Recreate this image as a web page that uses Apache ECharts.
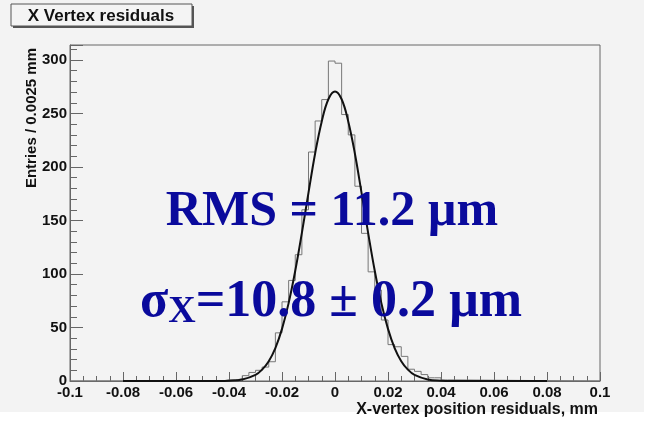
<!DOCTYPE html>
<html lang="en">
<head>
	<meta charset="UTF-8">
	<title>X Vertex residuals</title>
	<style>
		html, body { margin: 0; padding: 0; background: #ffffff; }
		#chart { width: 653px; height: 422px; }
	</style>
</head>
<body>
	<div id="chart"></div>
	<script src="https://cdn.jsdelivr.net/npm/echarts@6/dist/echarts.min.js"></script>
	<script>
		// histogram: bin width 0.0025 mm, counts from -0.045 to 0.045 (zero outside)
		var binWidth = 0.0025;
		var firstEdge = -0.045;
		var counts = [0, 1, 1, 2, 5, 8, 10, 13, 18, 45, 74, 94, 118, 160, 214, 243, 263, 299,
			297, 249, 230, 182, 138, 102, 85, 57, 34, 32, 23, 11, 9, 6, 3, 3, 1, 1];

		// gaussian fit curve
		var fitX = [-0.08, -0.05, -0.045, -0.04, -0.035, -0.03, -0.0275, -0.025, -0.0225, -0.02, -0.0175,
			-0.015, -0.0125, -0.01, -0.0075, -0.005, -0.0025, 0, 0.0025, 0.005, 0.0075, 0.01, 0.0125,
			0.015, 0.0175, 0.02, 0.0225, 0.025, 0.0275, 0.03, 0.035, 0.04, 0.045, 0.05, 0.08];
		var fitY = [0, 0, 0.05, 0.3, 1.4, 5.7, 10.6, 18.5, 30.8, 48.7, 72.8,
			103, 138.5, 176, 212.6, 242.6, 263.3, 270.5, 263.3, 242.6, 212.6, 176, 138.5,
			103, 72.8, 48.7, 30.8, 18.5, 10.6, 5.7, 1.4, 0.3, 0.05, 0, 0];

		var xTicks = { min: -0.1, max: 0.1, interval: 0.02 };
		var yTicks = { min: 0, max: 314, interval: 50 };

		var histData = [[-0.1, 0]];
		for (var i = 0; i < counts.length; i++) {
			histData.push([+(firstEdge + i * binWidth).toFixed(4), counts[i]]);
		}
		histData.push([+(firstEdge + counts.length * binWidth).toFixed(4), 0]);
		histData.push([0.1, 0]);

		var fitData = [];
		for (var j = 0; j < fitX.length; j++) {
			fitData.push([fitX[j], fitY[j]]);
		}

		var labelFont = {
			fontFamily: 'Liberation Sans, Arial, sans-serif',
			fontWeight: 'bold',
			fontSize: 15,
			color: '#111'
		};
		var blue = '#0a0a9c';

		var chart = echarts.init(document.getElementById('chart'));
		var option = {
			backgroundColor: '#ffffff',
			animation: false,
			grid: {
				left: 70, right: 53, top: 45, bottom: 41,
				show: true, borderColor: '#666', borderWidth: 1,
				backgroundColor: 'transparent'
			},
			xAxis: {
				type: 'value',
				min: xTicks.min, max: xTicks.max, interval: xTicks.interval,
				axisLine: { lineStyle: { color: '#666' } },
				axisTick: { inside: true, length: 9, lineStyle: { color: '#666' } },
				minorTick: { show: true, splitNumber: 4, length: 5, lineStyle: { color: '#666' } },
				splitLine: { show: false },
				axisLabel: Object.assign({
					margin: 4,
					formatter: function (v) { return String(+v.toFixed(2)); }
				}, labelFont)
			},
			yAxis: {
				type: 'value',
				min: yTicks.min, max: yTicks.max, interval: yTicks.interval,
				axisLine: { show: true, onZero: false, lineStyle: { color: '#666' } },
				axisTick: { show: true, inside: true, length: 13, lineStyle: { color: '#666' } },
				minorTick: { show: true, splitNumber: 5, length: 7, lineStyle: { color: '#666' } },
				splitLine: { show: false },
				axisLabel: Object.assign({
					margin: 3,
					formatter: function (v) { return v % 50 === 0 ? String(v) : ''; }
				}, labelFont)
			},
			graphic: [
				{
					type: 'rect', z: -10, silent: true,
					shape: { x: 0, y: 0, width: 644, height: 412 },
					style: { fill: '#f3f3f3' }
				},
				{
					type: 'rect', z: 10,
					shape: { x: 13, y: 6, width: 181, height: 22 },
					style: { fill: '#555' }
				},
				{
					type: 'rect', z: 11,
					shape: { x: 11, y: 4, width: 181, height: 22 },
					style: { fill: '#f4f4f4', stroke: '#555', lineWidth: 1 }
				},
				{
					type: 'text', z: 12, x: 101, y: 16,
					style: {
						text: 'X Vertex residuals', fill: '#111',
						font: 'bold 17px "Liberation Sans", Arial, sans-serif',
						textAlign: 'center', textVerticalAlign: 'middle'
					}
				},
				{
					type: 'text', z: 12, x: 32, y: 48, rotation: Math.PI / 2,
					style: {
						text: 'Entries / 0.0025 mm', fill: '#111',
						font: 'bold 15px "Liberation Sans", Arial, sans-serif',
						textAlign: 'right', textVerticalAlign: 'middle'
					}
				},
				{
					type: 'text', z: 12, x: 598, y: 410,
					style: {
						text: 'X-vertex position residuals, mm', fill: '#111',
						font: 'bold 16px "Liberation Sans", Arial, sans-serif',
						textAlign: 'right', textVerticalAlign: 'middle'
					}
				},
				{
					type: 'text', z: 20, x: 332, y: 212,
					style: {
						text: 'RMS = 11.2 µm', fill: blue,
						font: 'bold 50px "Liberation Serif", "Times New Roman", serif',
						textAlign: 'center', textVerticalAlign: 'middle'
					}
				},
				{
					type: 'text', z: 20, x: 140, y: 303,
					style: {
						text: '{a|σ}{b|X}{a|=10.8 ± 0.2 µm}',
						rich: {
							a: {
								fontFamily: 'Liberation Serif, Times New Roman, serif',
								fontWeight: 'bold', fontSize: 52, fill: blue, color: blue
							},
							b: {
								fontFamily: 'Liberation Serif, Times New Roman, serif',
								fontWeight: 'bold', fontSize: 38, fill: blue, color: blue,
								padding: [18, 0, 0, 0]
							}
						},
						textAlign: 'left', textVerticalAlign: 'middle'
					}
				}
			],
			series: [
				{
					name: 'histogram',
					type: 'line',
					step: 'end',
					symbol: 'none',
					data: histData,
					lineStyle: { color: '#777', width: 1 },
					z: 3
				},
				{
					name: 'fit',
					type: 'line',
					smooth: 0.4,
					symbol: 'none',
					data: fitData,
					lineStyle: { color: '#111', width: 2 },
					z: 4
				}
			]
		};
		chart.setOption(option);
	</script>
</body>
</html>
